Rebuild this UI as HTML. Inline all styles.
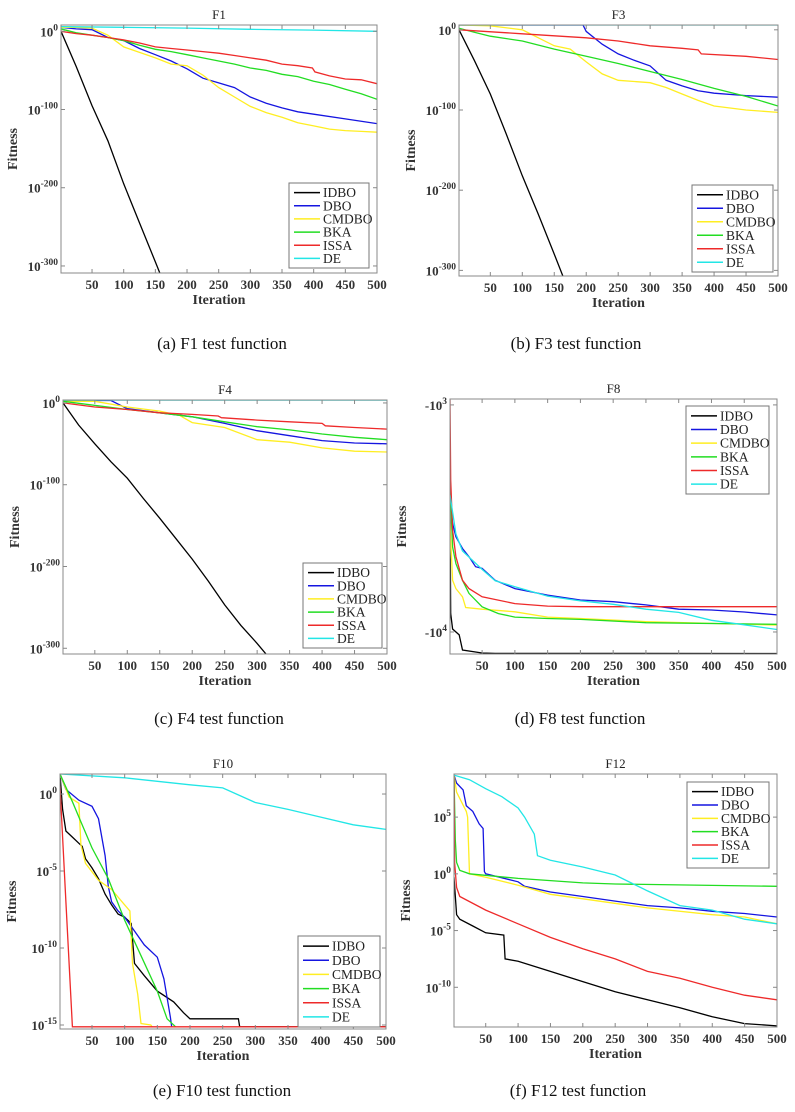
<!DOCTYPE html>
<html><head><meta charset="utf-8">
<style>
html,body{margin:0;padding:0;background:#fff;}
svg{display:block;font-family:"Liberation Serif",serif;}
</style></head>
<body>
<svg id="fig" width="795" height="1112" viewBox="0 0 795 1112" xmlns="http://www.w3.org/2000/svg">
<rect x="0" y="0" width="795" height="1112" fill="#fff"/>
</svg>
<script>
// ---- data (log10 exponents of fitness unless noted) ----
const iterTicks=[50,100,150,200,250,300,350,400,450,500];
const seriesNames=["IDBO","DBO","CMDBO","BKA","ISSA","DE"];
const seriesColors=["#000000","#1515e0","#ffee22","#22dd22","#ee2a2a","#22e6e6"];

const f1Idbo=[[1,0],[25,-45],[50,-95],[75,-140],[100,-195],[125,-245],[150,-295],[160,-315]];
const f1Dbo=[[1,5],[25,3],[50,2],[75,-8],[100,-12],[125,-22],[150,-30],[175,-38],[200,-48],[225,-60],[250,-66],[275,-72],[300,-84],[325,-92],[350,-98],[375,-103],[400,-106],[450,-112],[500,-118]];
const f1Cmdbo=[[1,5],[25,5],[50,4],[75,-5],[100,-20],[125,-27],[150,-34],[175,-42],[200,-44],[225,-56],[250,-72],[275,-84],[300,-96],[325,-104],[350,-110],[375,-117],[400,-121],[425,-125],[450,-127],[475,-128],[500,-129]];
const f1Bka=[[1,3],[25,-2],[50,-5],[75,-8],[100,-12],[125,-18],[150,-23],[175,-26],[200,-30],[225,-34],[250,-38],[275,-42],[300,-47],[325,-50],[350,-55],[375,-58],[400,-64],[425,-68],[450,-74],[475,-80],[500,-87]];
const f1Issa=[[1,0],[25,-3],[50,-5],[75,-8],[100,-11],[125,-15],[150,-20],[175,-22],[200,-24],[225,-26],[250,-28],[275,-31],[300,-34],[325,-37],[350,-42],[375,-44],[398,-47],[402,-52],[425,-57],[450,-61],[475,-62],[500,-67]];
const f1De=[[1,6],[100,5],[200,4],[300,2.5],[400,1.5],[500,0]];

const f3Idbo=[[1,0],[25,-38],[50,-80],[75,-130],[100,-182],[125,-230],[150,-280],[165,-310]];
const f3Dbo=[[1,6],[195,6],[200,-2],[225,-18],[250,-30],[275,-38],[300,-45],[325,-63],[350,-70],[375,-76],[400,-79],[450,-82],[500,-84]];
const f3Cmdbo=[[1,6],[50,5],[100,0],[125,-10],[150,-20],[175,-24],[200,-40],[225,-55],[250,-63],[300,-66],[325,-72],[350,-80],[375,-88],[400,-95],[450,-100],[500,-103]];
const f3Bka=[[1,2],[25,-3],[50,-8],[100,-14],[150,-24],[200,-33],[250,-42],[300,-52],[350,-62],[400,-73],[450,-83],[500,-95]];
const f3Issa=[[1,0],[100,-5],[200,-10],[250,-14],[300,-20],[350,-23],[375,-25],[380,-30],[450,-33],[500,-37]];
const f3De=[[1,6],[500,6]];

const f4Idbo=[[1,0],[25,-27],[50,-50],[75,-72],[100,-92],[125,-117],[150,-141],[175,-166],[200,-191],[225,-218],[250,-247],[275,-272],[300,-294],[322,-315]];
const f4Dbo=[[1,3],[75,3],[90,-3],[100,-7],[150,-12],[200,-17],[250,-25],[300,-34],[350,-40],[400,-46],[450,-49],[500,-50]];
const f4Cmdbo=[[1,2],[50,2],[100,-5],[150,-10],[180,-15],[200,-24],[250,-30],[300,-45],[350,-48],[400,-55],[450,-59],[500,-60]];
const f4Bka=[[1,2],[100,-8],[150,-12],[200,-17],[250,-23],[300,-29],[350,-33],[400,-38],[450,-42],[500,-45]];
const f4Issa=[[1,0],[50,-5],[100,-8],[150,-12],[200,-14],[240,-16],[245,-18],[300,-21],[350,-23],[400,-25],[405,-28],[450,-30],[500,-32]];
const f4De=[[1,3.5],[500,3.5]];

// F8: raw fitness values (negative)
const f8Idbo=[[1,-3005],[2,-8300],[5,-9700],[15,-10300],[20,-12000],[50,-12380],[70,-12430],[500,-12440]];
const f8Dbo=[[1,-2490],[5,-3330],[10,-3810],[20,-4290],[30,-4660],[40,-5160],[50,-5250],[70,-5920],[100,-6440],[150,-6880],[200,-7230],[250,-7360],[300,-7600],[350,-7940],[400,-8000],[450,-8170],[500,-8410]];
const f8Cmdbo=[[1,-3330],[5,-5920],[10,-6440],[20,-7000],[25,-7800],[50,-7940],[100,-8150],[150,-8600],[200,-8720],[300,-9000],[500,-9330]];
const f8Bka=[[1,-2210],[5,-4220],[10,-5000],[20,-5920],[30,-6760],[50,-7750],[75,-8300],[100,-8600],[150,-8720],[200,-8800],[300,-9100],[500,-9250]];
const f8Issa=[[1,-950],[2,-2140],[5,-3560],[10,-4660],[20,-5920],[30,-6440],[50,-7000],[100,-7500],[150,-7690],[200,-7740],[500,-7740]];
const f8De=[[1,-2490],[10,-3700],[20,-4400],[50,-5300],[70,-5950],[100,-6320],[150,-6950],[200,-7300],[250,-7550],[300,-7940],[350,-8200],[400,-8880],[450,-9300],[500,-9750]];

const f10Idbo=[[1,1.3],[5,-1],[10,-2.4],[20,-2.8],[30,-3.2],[35,-3.4],[40,-4.2],[50,-4.8],[60,-5.5],[70,-6.5],[80,-7.2],[90,-7.8],[100,-8.0],[110,-8.4],[115,-11],[130,-11.8],[150,-12.8],[175,-13.5],[190,-14.2],[200,-14.6],[274,-14.6],[276,-15.12],[500,-15.12]];
const f10Dbo=[[1,1.3],[10,0.3],[30,-0.4],[50,-0.8],[60,-1.6],[70,-4],[75,-6],[80,-7.0],[90,-7.6],[100,-8.0],[110,-8.6],[130,-9.8],[150,-10.6],[160,-12.0],[170,-14.5],[172,-15.12]];
const f10Cmdbo=[[1,1.3],[15,-0.2],[30,-0.6],[33,-3.3],[40,-4.5],[60,-5.6],[80,-6.2],[100,-7.2],[108,-7.6],[112,-11],[120,-13],[125,-14.9],[140,-15.0],[142,-15.12]];
const f10Bka=[[1,1.3],[20,-0.5],[30,-1.5],[50,-3.5],[75,-5.5],[100,-8.2],[125,-10.5],[150,-12.8],[165,-14.6],[178,-15.12]];
const f10Issa=[[1,0.5],[10,-7],[20,-15.12],[500,-15.12]];
const f10De=[[1,1.3],[100,1.05],[200,0.6],[250,0.4],[300,-0.55],[350,-1.0],[400,-1.5],[450,-2.0],[500,-2.3]];

const f12Idbo=[[1,-0.3],[5,-3.6],[10,-4],[30,-4.6],[50,-5.2],[78,-5.4],[80,-7.5],[100,-7.7],[150,-8.6],[200,-9.5],[250,-10.4],[300,-11.1],[350,-11.8],[400,-12.6],[450,-13.2],[500,-13.4]];
const f12Dbo=[[1,8.7],[5,8],[15,7.4],[20,6],[30,5.5],[40,4.4],[46,4.0],[48,0.2],[50,0],[100,-0.7],[110,-1.1],[150,-1.6],[200,-2.0],[250,-2.4],[300,-2.8],[350,-3.0],[400,-3.3],[450,-3.5],[500,-3.8]];
const f12Cmdbo=[[1,8.7],[5,7.2],[20,5.5],[22,5.0],[25,0],[50,-0.3],[100,-1.0],[150,-1.8],[200,-2.2],[300,-3.0],[400,-3.6],[450,-3.8],[500,-4.4]];
const f12Bka=[[1,8.7],[3,3],[5,1],[10,0.3],[25,0],[100,-0.4],[200,-0.8],[250,-0.9],[500,-1.1]];
const f12Issa=[[1,8.7],[2,1],[5,-1.2],[10,-2],[50,-3.2],[100,-4.4],[150,-5.6],[200,-6.6],[250,-7.5],[300,-8.6],[350,-9.2],[400,-10.0],[450,-10.7],[500,-11.1]];
const f12De=[[1,8.7],[25,8.3],[50,7.5],[75,6.8],[100,5.8],[110,5.0],[125,3.5],[130,1.6],[150,1.2],[200,0.6],[250,-0.1],[300,-1.5],[350,-2.8],[400,-3.2],[450,-4.0],[500,-4.4]];

// ---- layout ----
const NS="http://www.w3.org/2000/svg";
const svg=document.getElementById('fig');
function mk(tag,attrs,parent){const e=document.createElementNS(NS,tag);for(const k in attrs)e.setAttribute(k,attrs[k]);(parent||svg).appendChild(e);return e;}

const panels=[
 {id:"f1",title:"F1",cap:"(a) F1 test function",capX:222,capY:349,L:61,R:377,T:25,B:273,ymin:-309,ymax:8,yt:[0,-100,-200,-300],neg:false,series:[f1Idbo,f1Dbo,f1Cmdbo,f1Bka,f1Issa,f1De],lg:[289,183,80,85]},
 {id:"f3",title:"F3",cap:"(b) F3 test function",capX:576,capY:349,L:459,R:778,T:25,B:276,ymin:-307,ymax:6,yt:[0,-100,-200,-300],neg:false,series:[f3Idbo,f3Dbo,f3Cmdbo,f3Bka,f3Issa,f3De],lg:[692,185,81,87]},
 {id:"f4",title:"F4",cap:"(c) F4 test function",capX:219,capY:724,L:63,R:387,T:400,B:654,ymin:-307,ymax:3.6,yt:[0,-100,-200,-300],neg:false,series:[f4Idbo,f4Dbo,f4Cmdbo,f4Bka,f4Issa,f4De],lg:[303,563,79,85]},
 {id:"f8",title:"F8",cap:"(d) F8 test function",capX:580,capY:724,L:450,R:777,T:399,B:654,ymin:2.974,ymax:4.097,yt:[3,4],neg:true,series:[f8Idbo,f8Dbo,f8Cmdbo,f8Bka,f8Issa,f8De],lg:[686,406,83,88]},
 {id:"f10",title:"F10",cap:"(e) F10 test function",capX:222,capY:1096,L:60,R:386,T:774,B:1029,ymin:-15.26,ymax:1.3,yt:[0,-5,-10,-15],neg:false,series:[f10Idbo,f10Dbo,f10Cmdbo,f10Bka,f10Issa,f10De],lg:[298,936,82,91]},
 {id:"f12",title:"F12",cap:"(f) F12 test function",capX:578,capY:1096,L:454,R:777,T:774,B:1027,ymin:-13.5,ymax:8.8,yt:[5,0,-5,-10],neg:false,series:[f12Idbo,f12Dbo,f12Cmdbo,f12Bka,f12Issa,f12De],lg:[687,782,82,86]}
];

panels.forEach(p=>{
  const g=mk('g',{});
  
  
  const xs=v=>p.L+(v-1)/(499)*(p.R-p.L);
  const ys=p.neg? (v=>p.T+(Math.log10(-v)-p.ymin)/(p.ymax-p.ymin)*(p.B-p.T))
                : (v=>p.B-(v-p.ymin)/(p.ymax-p.ymin)*(p.B-p.T));
  const ysTick=p.neg? (e=>p.T+(e-p.ymin)/(p.ymax-p.ymin)*(p.B-p.T)) : (e=>ys(e));
  const bg=mk('rect',{x:p.L,y:p.T,width:p.R-p.L,height:p.B-p.T,fill:"#fff"},g);
  
  
  const cp=mk('clipPath',{id:'clip-'+p.id},g);
  mk('rect',{x:p.L,y:p.T,width:p.R-p.L,height:p.B-p.T},cp);
  const sg=mk('g',{'clip-path':'url(#clip-'+p.id+')'},g);
  p.series.forEach((s,i)=>{
    const d=s.map((pt,j)=>(j?'L':'M')+xs(pt[0]).toFixed(1)+' '+ys(pt[1]).toFixed(1)).join(' ');
    const pl=mk('path',{d:d,fill:'none',stroke:seriesColors[i],'stroke-width':1.3},sg);
    
    
  });
  const box=mk('rect',{x:p.L,y:p.T,width:p.R-p.L,height:p.B-p.T,fill:'none',stroke:'#888','stroke-width':1},g);
  
  
  iterTicks.forEach(t=>{
    const x=xs(t);
    mk('line',{x1:x,x2:x,y1:p.B,y2:p.B-4,stroke:'#888'},g);
    mk('line',{x1:x,x2:x,y1:p.T,y2:p.T+4,stroke:'#888'},g);
    const tl=mk('text',{x:x,y:p.B+16,'text-anchor':'middle','font-size':13,'font-weight':'bold',fill:'#333'},g);
    tl.textContent=t;
    
    
  });
  p.yt.forEach(e=>{
    const y=ysTick(e);
    mk('line',{x1:p.L,x2:p.L+4,y1:y,y2:y,stroke:'#888'},g);
    mk('line',{x1:p.R,x2:p.R-4,y1:y,y2:y,stroke:'#888'},g);
    const tl=mk('text',{x:p.L-3,y:y+5,'text-anchor':'end','font-size':13,'font-weight':'bold',fill:'#333'},g);
    
    
    const b=mk('tspan',{},tl); b.textContent=(p.neg?'-':'')+'10';
    const sp=mk('tspan',{dy:-6,'font-size':9.5},tl); sp.textContent=String(e);
  });
  const tt=mk('text',{x:(p.L+p.R)/2,y:p.T-6,'text-anchor':'middle','font-size':13,fill:'#222'},g);
  tt.textContent=p.title;
  
  
  const xt=mk('text',{x:(p.L+p.R)/2,y:p.B+31,'text-anchor':'middle','font-size':14,'font-weight':'bold',fill:'#333'},g);
  xt.textContent='Iteration';
  
  
  const cy=(p.T+p.B)/2;
  const yt=mk('text',{x:0,y:0,transform:'translate('+(p.L-44)+','+cy+') rotate(-90)','text-anchor':'middle','font-size':14,'font-weight':'bold',fill:'#333'},g);
  yt.textContent='Fitness';
  
  
  const [lx,ly,lw,lh]=p.lg;
  const lgG=mk('g',{},g);
  
  
  mk('rect',{x:lx,y:ly,width:lw,height:lh,fill:'#fff',stroke:'#777','stroke-width':1},lgG);
  const step=(lh-6)/6;
  seriesNames.forEach((n,i)=>{
    const y=ly+3+step*(i+0.5);
    const en=mk('g',{},lgG);
    
    
    mk('line',{x1:lx+5,x2:lx+31,y1:y,y2:y,stroke:seriesColors[i],'stroke-width':1.5},en);
    const t=mk('text',{x:lx+34,y:y+4.5,'font-size':13.5,fill:'#222'},en);
    t.textContent=n;
  });
  const cap=mk('text',{x:p.capX,y:p.capY,'text-anchor':'middle','font-size':17,fill:'#111'},g);
  cap.textContent=p.cap;
  
  
});
</script>
</body></html>
